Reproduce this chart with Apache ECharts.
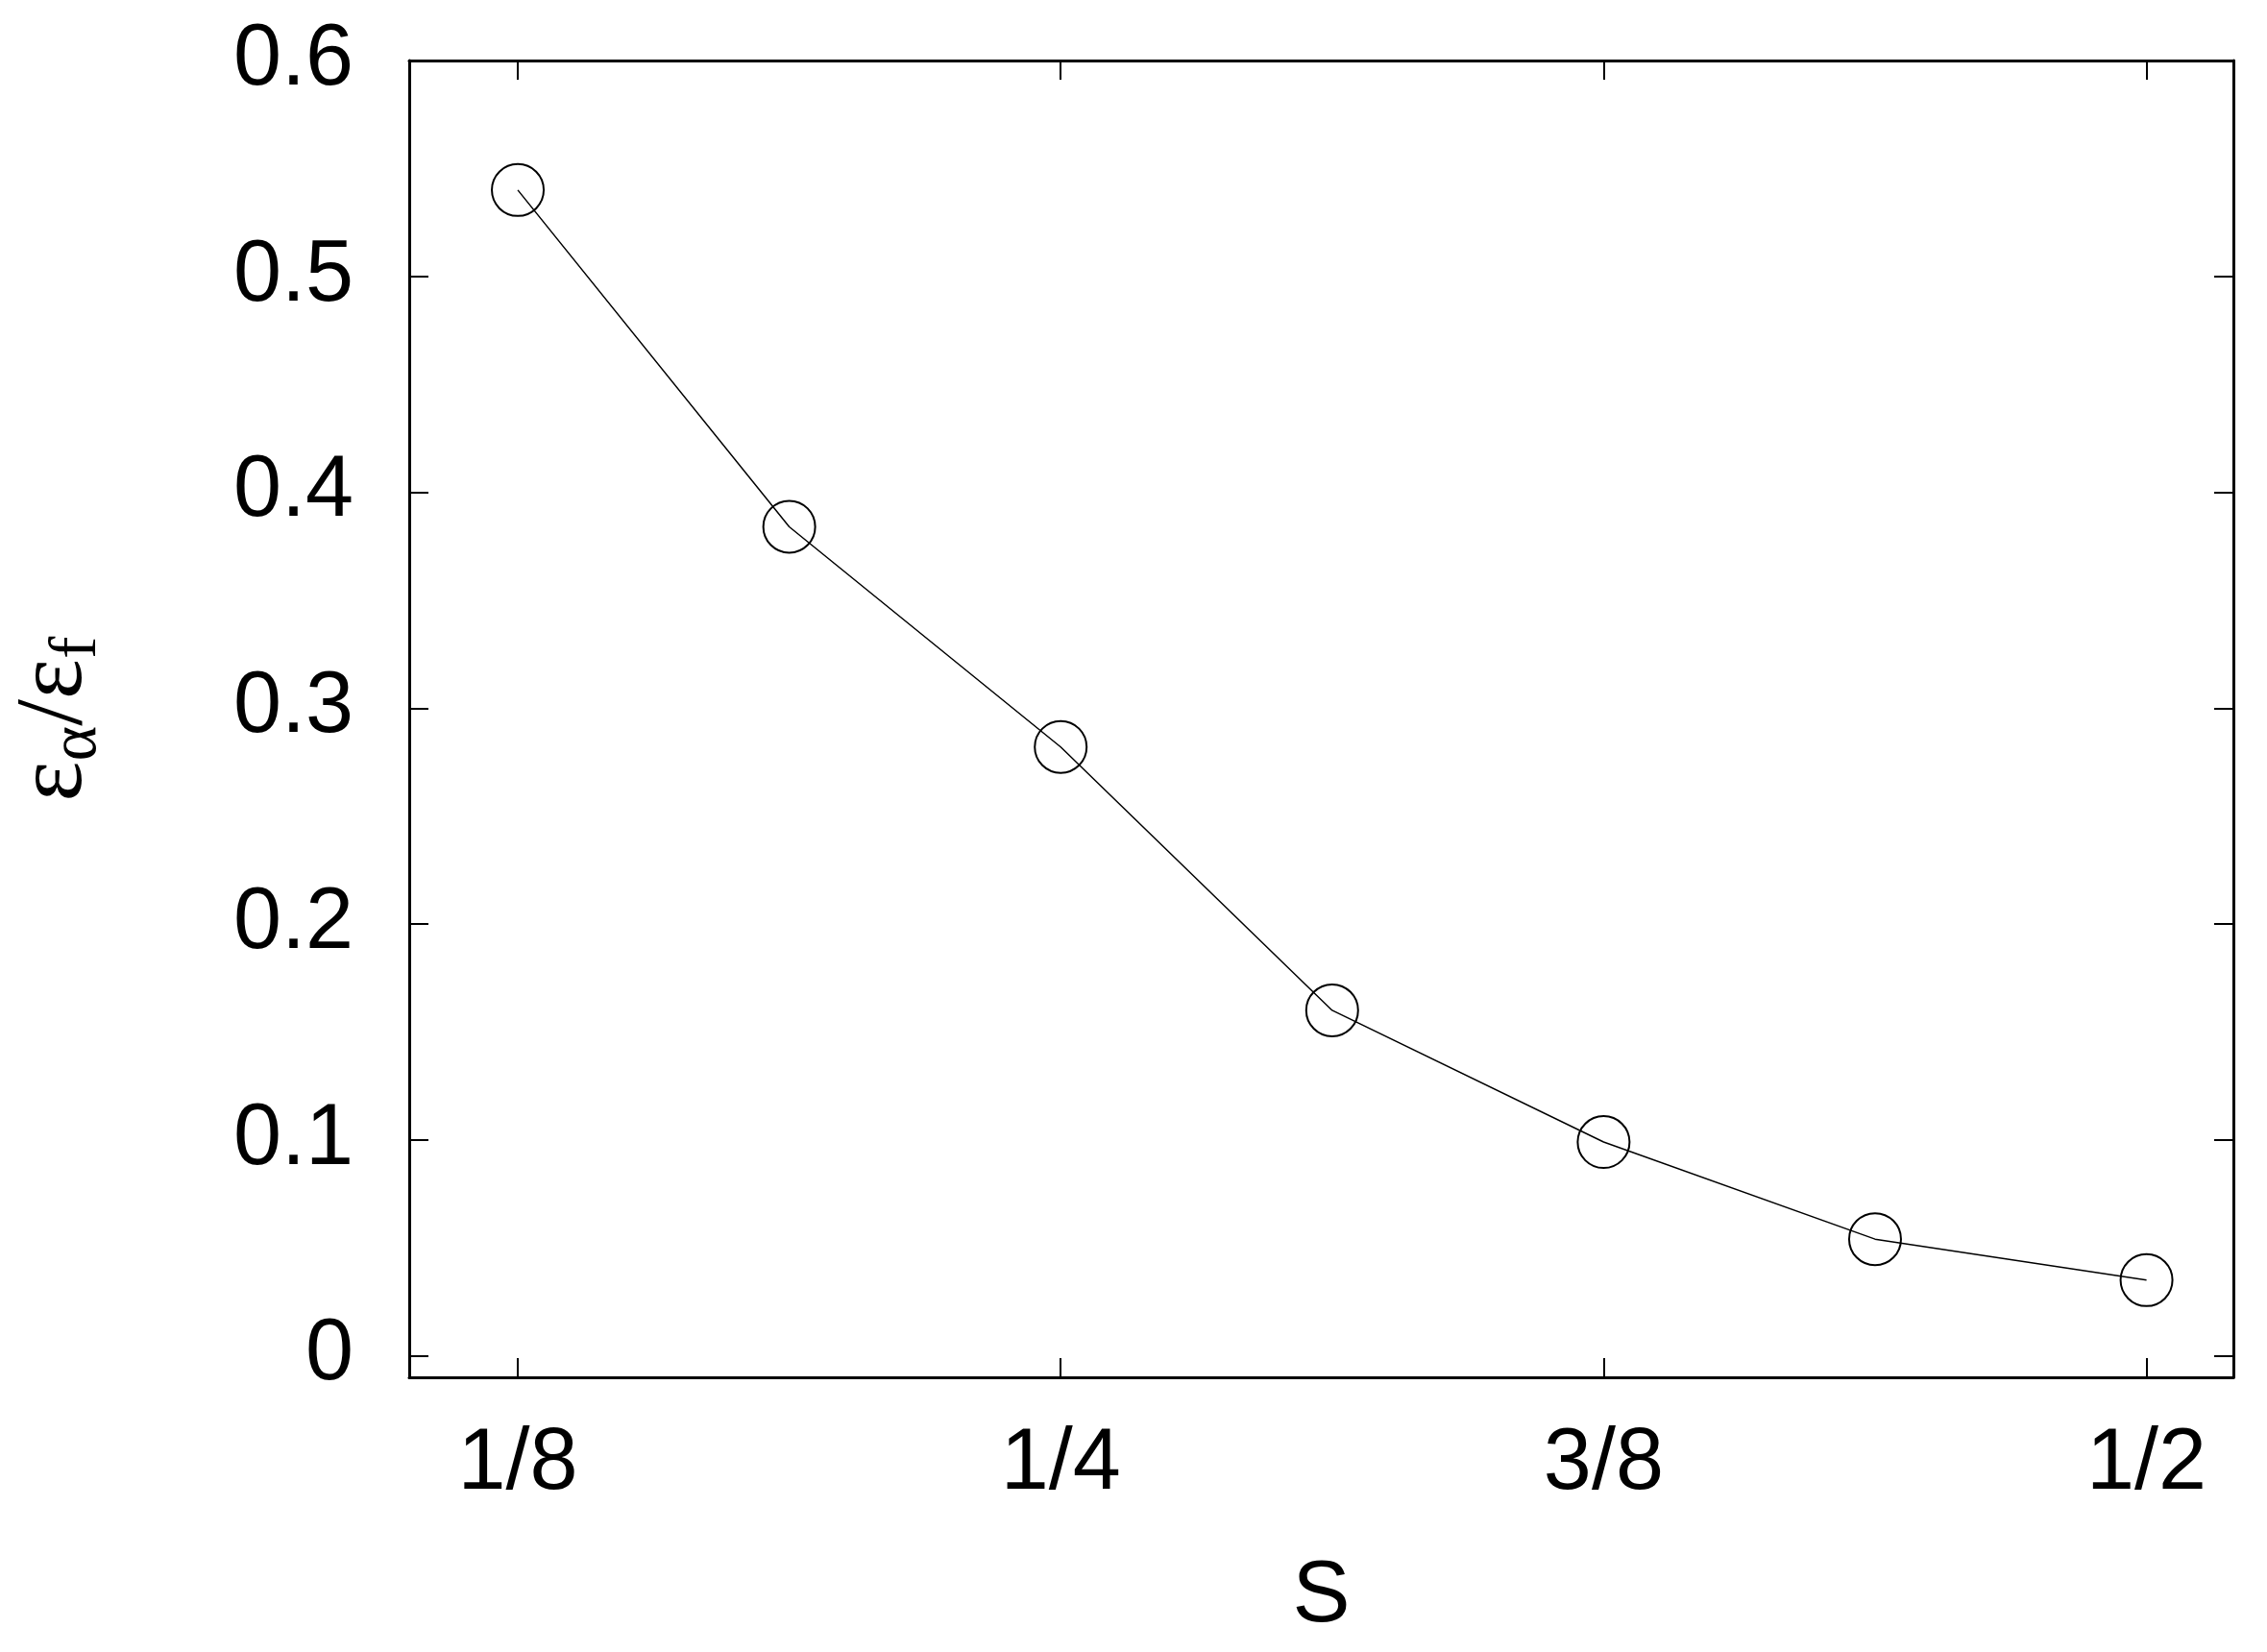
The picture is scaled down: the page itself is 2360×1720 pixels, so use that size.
<!DOCTYPE html>
<html>
<head>
<meta charset="utf-8">
<script src="https://cdn.jsdelivr.net/npm/echarts@6/dist/echarts.min.js"></script>
<style>
  html, body { margin: 0; padding: 0; background: #fff; }
  #main { width: 2360px; height: 1720px; }
</style>
</head>
<body>
<div id="main"></div>
<script>
// S values (fractions) and the ratio
var sValues = [1 / 8, 3 / 16, 1 / 4, 5 / 16, 3 / 8, 7 / 16, 1 / 2];
var ratio = [0.540, 0.384, 0.282, 0.160, 0.099, 0.054, 0.035];

var xTicks = [1 / 8, 1 / 4, 3 / 8, 1 / 2];
var xTickLabels = ['1/8', '1/4', '3/8', '1/2'];
var yTicks = [0, 0.1, 0.2, 0.3, 0.4, 0.5, 0.6];

var font = 'Liberation Sans';
var black = '#000';

var chart = echarts.init(document.getElementById('main'));

function xLabel(v) {
  for (var i = 0; i < xTicks.length; i++) {
    if (Math.abs(xTicks[i] - v) < 1e-6) return xTickLabels[i];
  }
  return '';
}

var line = { show: true, onZero: false, lineStyle: { color: black, width: 3 } };
var tick = { show: true, inside: true, length: 20, lineStyle: { color: black, width: 2 } };

var option = {
  animation: false,
  backgroundColor: '#fff',
  grid: { left: 426, top: 63, width: 1899, height: 1371, containLabel: false },
  xAxis: [
    {
      type: 'value', min: 0.1, max: 0.52, position: 'bottom',
      axisLine: line,
      axisTick: Object.assign({ customValues: xTicks }, tick),
      axisLabel: {
        customValues: xTicks, formatter: xLabel, margin: 46,
        fontFamily: font, fontSize: 90, color: black
      },
      splitLine: { show: false },
      name: 'S', nameLocation: 'middle', nameGap: 184,
      nameTextStyle: { fontFamily: font, fontSize: 90, color: black }
    },
    {
      type: 'value', min: 0.1, max: 0.52, position: 'top',
      axisLine: line,
      axisTick: Object.assign({ customValues: xTicks }, tick),
      axisLabel: { show: false },
      splitLine: { show: false }
    }
  ],
  yAxis: [
    {
      type: 'value', min: -0.01, max: 0.6, position: 'left',
      axisLine: line,
      axisTick: Object.assign({ customValues: yTicks }, tick),
      axisLabel: {
        customValues: yTicks, margin: 58,
        fontFamily: font, fontSize: 90, color: black
      },
      splitLine: { show: false },
      name: '{e|ε}{s|α}{e|/ε}{s|f}',
      nameLocation: 'middle', nameRotate: 90, nameGap: 310,
      nameTextStyle: {
        color: black,
        rich: {
          e: { fontFamily: 'Liberation Serif', fontSize: 100, color: black, lineHeight: 116 },
          s: { fontFamily: 'Liberation Serif', fontSize: 70, color: black, lineHeight: 116, verticalAlign: 'bottom', padding: [30, 0, 0, 0] }
        }
      }
    },
    {
      type: 'value', min: -0.01, max: 0.6, position: 'right',
      axisLine: line,
      axisTick: Object.assign({ customValues: yTicks }, tick),
      axisLabel: { show: false },
      splitLine: { show: false }
    }
  ],
  series: [
    {
      type: 'line',
      data: sValues.map(function (s, i) { return [s, ratio[i]]; }),
      symbol: 'circle',
      symbolSize: 54,
      lineStyle: { color: black, width: 1.5 },
      itemStyle: { color: 'rgba(0,0,0,0)', borderColor: black, borderWidth: 2 }
    }
  ]
};

chart.setOption(option);
</script>
</body>
</html>
